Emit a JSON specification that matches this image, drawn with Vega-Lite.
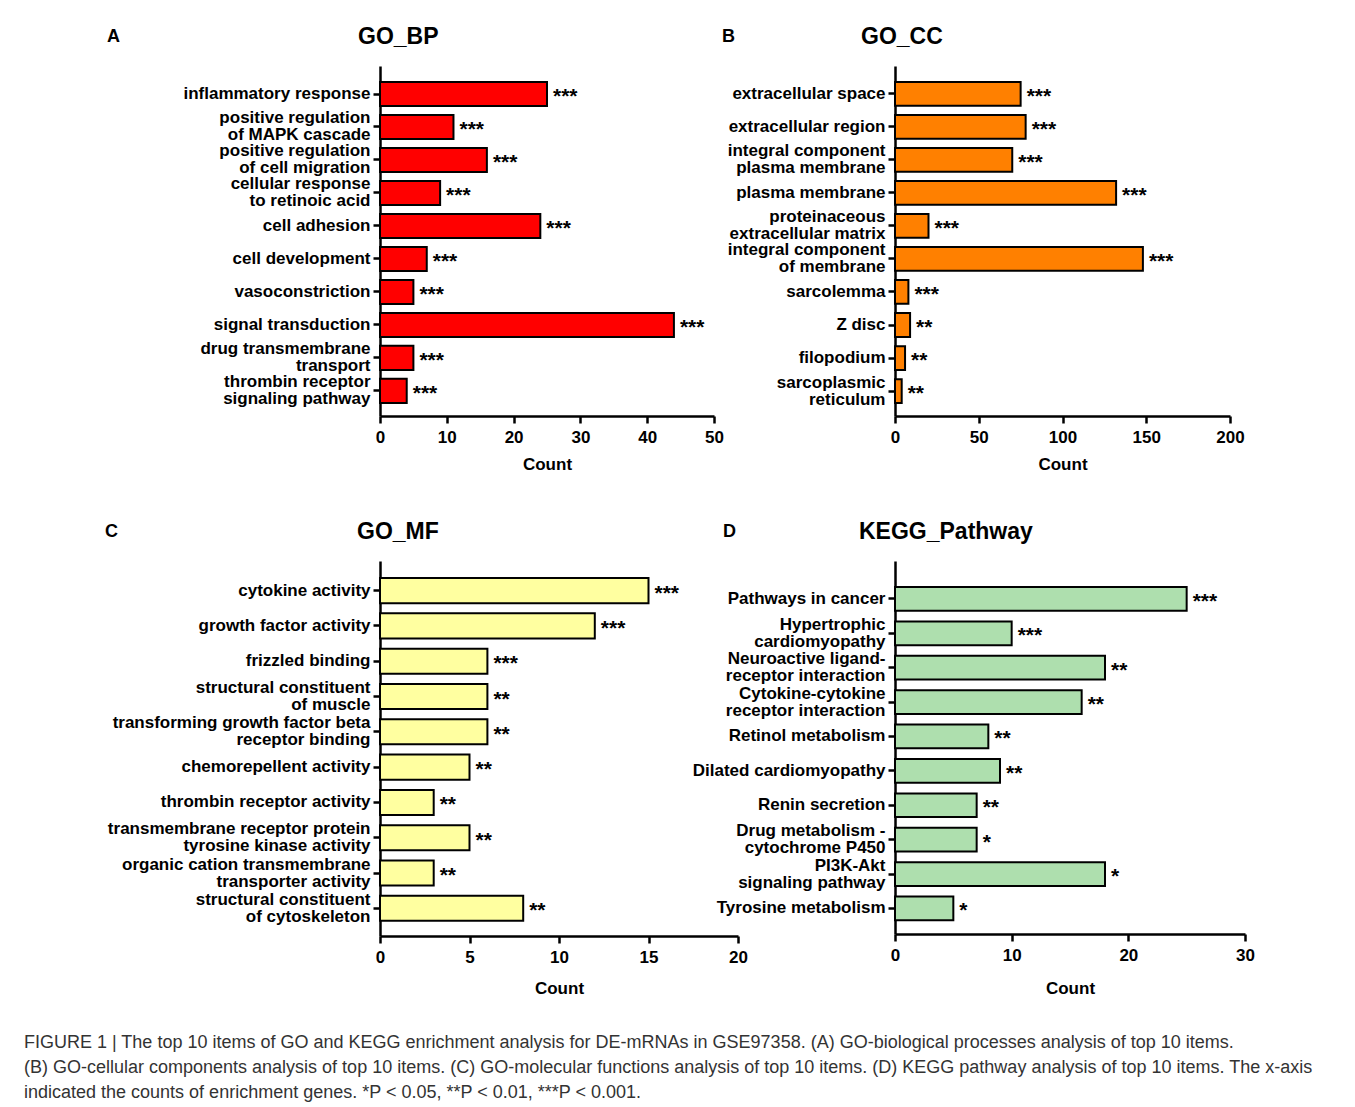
{
  "$schema": "https://vega.github.io/schema/vega-lite/v6.json",
  "autosize": {"type": "pad"},
  "padding": {"left": 24, "top": 26, "right": 0, "bottom": 0},
  "background": "white",
  "config": {
    "font": "Liberation Sans",
    "view": {"stroke": null},
    "axis": {"domainColor": "#000", "domainWidth": 2.5, "tickColor": "#000", "tickWidth": 2.5, "labelColor": "#000", "labelFont": "Liberation Sans", "labelFontWeight": "bold", "labelFontSize": 17, "titleColor": "#000", "titleFont": "Liberation Sans", "titleFontWeight": "bold", "titleFontSize": 17, "grid": false},
    "axisY": {"tickSize": 7, "labelPadding": 3, "labelLimit": 400, "labelLineHeight": 17, "titleAngle": 0, "titleAlign": "center", "titleBaseline": "middle", "titleFontSize": 18},
    "axisX": {"tickSize": 7, "labelPadding": 6, "titlePadding": 11, "labelFlush": false},
    "title": {"fontSize": 23, "fontWeight": "bold", "color": "#000", "font": "Liberation Sans", "baseline": "alphabetic", "frame": "group", "anchor": "start", "offset": -22}
  },
  "title": {
    "text": [
      "FIGURE 1 | The top 10 items of GO and KEGG enrichment analysis for DE-mRNAs in GSE97358. (A) GO-biological processes analysis of top 10 items.",
      "(B) GO-cellular components analysis of top 10 items. (C) GO-molecular functions analysis of top 10 items. (D) KEGG pathway analysis of top 10 items. The x-axis",
      "indicated the counts of enrichment genes. *P < 0.05, **P < 0.01, ***P < 0.001."
    ],
    "orient": "bottom", "anchor": "start", "frame": "group", "dx": -356, "offset": 38,
    "fontSize": 18, "fontWeight": "normal", "lineHeight": 25, "color": "#333", "baseline": "top"
  },
  "datasets": {
    "bp": [
      {"term": "inflammatory response", "count": 25, "sig": "***"},
      {"term": "positive regulation\nof MAPK cascade", "count": 11, "sig": "***"},
      {"term": "positive regulation\nof cell migration", "count": 16, "sig": "***"},
      {"term": "cellular response\nto retinoic acid", "count": 9, "sig": "***"},
      {"term": "cell adhesion", "count": 24, "sig": "***"},
      {"term": "cell development", "count": 7, "sig": "***"},
      {"term": "vasoconstriction", "count": 5, "sig": "***"},
      {"term": "signal transduction", "count": 44, "sig": "***"},
      {"term": "drug transmembrane\ntransport", "count": 5, "sig": "***"},
      {"term": "thrombin receptor\nsignaling pathway", "count": 4, "sig": "***"}
    ],
    "cc": [
      {"term": "extracellular space", "count": 75, "sig": "***"},
      {"term": "extracellular region", "count": 78, "sig": "***"},
      {"term": "integral component\nplasma membrane", "count": 70, "sig": "***"},
      {"term": "plasma membrane", "count": 132, "sig": "***"},
      {"term": "proteinaceous\nextracellular matrix", "count": 20, "sig": "***"},
      {"term": "integral component\nof membrane", "count": 148, "sig": "***"},
      {"term": "sarcolemma", "count": 8, "sig": "***"},
      {"term": "Z disc", "count": 9, "sig": "**"},
      {"term": "filopodium", "count": 6, "sig": "**"},
      {"term": "sarcoplasmic\nreticulum", "count": 4, "sig": "**"}
    ],
    "mf": [
      {"term": "cytokine activity", "count": 15, "sig": "***"},
      {"term": "growth factor activity", "count": 12, "sig": "***"},
      {"term": "frizzled binding", "count": 6, "sig": "***"},
      {"term": "structural constituent\nof muscle", "count": 6, "sig": "**"},
      {"term": "transforming growth factor beta\nreceptor binding", "count": 6, "sig": "**"},
      {"term": "chemorepellent activity", "count": 5, "sig": "**"},
      {"term": "thrombin receptor activity", "count": 3, "sig": "**"},
      {"term": "transmembrane receptor protein\ntyrosine kinase activity", "count": 5, "sig": "**"},
      {"term": "organic cation transmembrane\ntransporter activity", "count": 3, "sig": "**"},
      {"term": "structural constituent\nof cytoskeleton", "count": 8, "sig": "**"}
    ],
    "kegg": [
      {"term": "Pathways in cancer", "count": 25, "sig": "***"},
      {"term": "Hypertrophic\ncardiomyopathy", "count": 10, "sig": "***"},
      {"term": "Neuroactive ligand-\nreceptor interaction", "count": 18, "sig": "**"},
      {"term": "Cytokine-cytokine\nreceptor interaction", "count": 16, "sig": "**"},
      {"term": "Retinol metabolism", "count": 8, "sig": "**"},
      {"term": "Dilated cardiomyopathy", "count": 9, "sig": "**"},
      {"term": "Renin secretion", "count": 7, "sig": "**"},
      {"term": "Drug metabolism -\ncytochrome P450", "count": 7, "sig": "*"},
      {"term": "PI3K-Akt\nsignaling pathway", "count": 18, "sig": "*"},
      {"term": "Tyrosine metabolism", "count": 5, "sig": "*"}
    ]
  },
  "columns": 2,
  "spacing": {"row": 145, "column": 157},
  "bounds": "flush",
  "concat": [
    {
      "width": 334, "height": 350,
      "title": {"text": "GO_BP", "dx": -22},
      "data": {"name": "bp"},
      "encoding": {
        "y": {"field": "term", "type": "nominal", "sort": null,
              "scale": {"paddingInner": 0.27, "paddingOuter": 0.44, "align": 0.55},
              "axis": {"title": "A", "titleX": -267, "titleY": -30, "labelExpr": "split(datum.label, '\\n')",
                       "labelOffset": {"condition": {"test": "indexof(datum.value, '\\n') >= 0", "value": -8.5}, "value": 0}}},
        "x": {"field": "count", "type": "quantitative", "scale": {"domain": [0, 50], "nice": false},
              "axis": {"values": [0, 10, 20, 30, 40, 50], "title": "Count"}}
      },
      "layer": [
        {"mark": {"type": "bar", "fill": "#ff0000", "stroke": "#000", "strokeWidth": 2}},
        {"mark": {"type": "text", "align": "left", "baseline": "middle", "dx": 6, "dy": 3, "fontSize": 21, "fontWeight": "bold", "color": "#000"},
         "encoding": {"text": {"field": "sig"}}}
      ]
    },
    {
      "width": 335, "height": 350,
      "title": {"text": "GO_CC", "dx": -34},
      "data": {"name": "cc"},
      "encoding": {
        "y": {"field": "term", "type": "nominal", "sort": null,
              "scale": {"paddingInner": 0.28, "paddingOuter": 0.44, "align": 0.55},
              "axis": {"title": "B", "titleX": -167, "titleY": -30, "labelExpr": "split(datum.label, '\\n')",
                       "labelOffset": {"condition": {"test": "indexof(datum.value, '\\n') >= 0", "value": -8.5}, "value": 0}}},
        "x": {"field": "count", "type": "quantitative", "scale": {"domain": [0, 200], "nice": false},
              "axis": {"values": [0, 50, 100, 150, 200], "title": "Count"}}
      },
      "layer": [
        {"mark": {"type": "bar", "fill": "#ff8000", "stroke": "#000", "strokeWidth": 2}},
        {"mark": {"type": "text", "align": "left", "baseline": "middle", "dx": 6, "dy": 3, "fontSize": 21, "fontWeight": "bold", "color": "#000"},
         "encoding": {"text": {"field": "sig"}}}
      ]
    },
    {
      "width": 358, "height": 375,
      "title": {"text": "GO_MF", "dx": -23},
      "data": {"name": "mf"},
      "encoding": {
        "y": {"field": "term", "type": "nominal", "sort": null,
              "scale": {"paddingInner": 0.29, "paddingOuter": 0.456, "align": 0.53},
              "axis": {"title": "C", "titleX": -269, "titleY": -30, "labelExpr": "split(datum.label, '\\n')",
                       "labelOffset": {"condition": {"test": "indexof(datum.value, '\\n') >= 0", "value": -8.5}, "value": 0}}},
        "x": {"field": "count", "type": "quantitative", "scale": {"domain": [0, 20], "nice": false},
              "axis": {"values": [0, 5, 10, 15, 20], "title": "Count", "titlePadding": 15}}
      },
      "layer": [
        {"mark": {"type": "bar", "fill": "#ffffa0", "stroke": "#000", "strokeWidth": 2}},
        {"mark": {"type": "text", "align": "left", "baseline": "middle", "dx": 6, "dy": 3, "fontSize": 21, "fontWeight": "bold", "color": "#000"},
         "encoding": {"text": {"field": "sig"}}}
      ]
    },
    {
      "width": 350, "height": 373,
      "title": {"text": "KEGG_Pathway", "dx": -36},
      "data": {"name": "kegg"},
      "encoding": {
        "y": {"field": "term", "type": "nominal", "sort": null,
              "scale": {"paddingInner": 0.31, "paddingOuter": 0.577, "align": 0.655},
              "axis": {"title": "D", "titleX": -166, "titleY": -30, "labelExpr": "split(datum.label, '\\n')",
                       "labelOffset": {"condition": {"test": "indexof(datum.value, '\\n') >= 0", "value": -8.5}, "value": 0}}},
        "x": {"field": "count", "type": "quantitative", "scale": {"domain": [0, 30], "nice": false},
              "axis": {"values": [0, 10, 20, 30], "title": "Count", "titlePadding": 17}}
      },
      "layer": [
        {"mark": {"type": "bar", "fill": "#aedfae", "stroke": "#000", "strokeWidth": 2}},
        {"mark": {"type": "text", "align": "left", "baseline": "middle", "dx": 6, "dy": 3, "fontSize": 21, "fontWeight": "bold", "color": "#000"},
         "encoding": {"text": {"field": "sig"}}}
      ]
    }
  ]
}
